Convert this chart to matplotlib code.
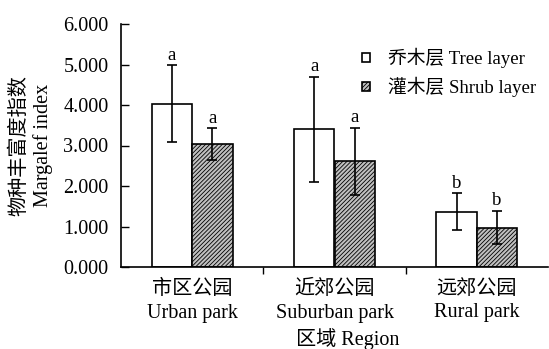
import matplotlib
matplotlib.use("Agg")
import matplotlib.pyplot as plt
import numpy as np

plt.rcParams['font.family'] = ['Liberation Serif', 'Noto Sans CJK SC']
plt.rcParams['hatch.linewidth'] = 0.6

regions = ["市区公园\nUrban park", "近郊公园\nSuburban park", "远郊公园\nRural park"]
series_names = ["乔木层 Tree layer", "灌木层 Shrub layer"]
tree_mean = [4.03, 3.40, 1.37]
tree_err = [0.95, 1.29, 0.45]
shrub_mean = [3.03, 2.61, 0.97]
shrub_err = [0.39, 0.82, 0.41]
tree_sig = ["a", "a", "b"]
shrub_sig = ["a", "a", "b"]
y_ticks = [0, 1, 2, 3, 4, 5, 6]

FS = 14.5

fig = plt.figure(figsize=(5.49, 3.49), dpi=100)
ax = fig.add_axes([121 / 549, 1 - 267 / 349, 427 / 549, 243 / 349])

centers = np.arange(len(regions)) + 0.5
w = 0.285
err_kw = dict(ecolor="black", elinewidth=1.2, capsize=3.5, capthick=1.2)

ax.bar(centers - w / 2, tree_mean, w, yerr=tree_err, color="white",
       edgecolor="black", linewidth=1.2, error_kw=err_kw, label=series_names[0])
ax.bar(centers + w / 2, shrub_mean, w, yerr=shrub_err, color="#c0c0c0",
       edgecolor="black", linewidth=1.2, hatch="////////", error_kw=err_kw,
       label=series_names[1])

for i in range(len(regions)):
    ax.text(centers[i] - w / 2, tree_mean[i] + tree_err[i] + 0.04, tree_sig[i],
            ha="center", va="bottom", fontsize=FS - 1)
    ax.text(centers[i] + w / 2, shrub_mean[i] + shrub_err[i] + 0.04, shrub_sig[i],
            ha="center", va="bottom", fontsize=FS - 1)

ax.set_xlim(0, 3)
ax.set_ylim(0, 6)
ax.set_yticks(y_ticks)
ax.set_yticklabels([f"{v:.3f}" for v in y_ticks], fontsize=FS)
ax.tick_params(axis="y", direction="in", length=6, width=1, pad=9)

ax.set_xticks([1, 2])
ax.set_xticklabels([])
ax.tick_params(axis="x", direction="out", length=5, width=1)
ax.set_xticks(centers, minor=True)
ax.set_xticklabels(regions, minor=True, fontsize=FS, linespacing=1.35)
ax.tick_params(axis="x", which="minor", length=0, pad=9)

for side in ["top", "right"]:
    ax.spines[side].set_visible(False)
for side in ["left", "bottom"]:
    ax.spines[side].set_linewidth(1.2)

ax.set_xlabel("区域 Region", fontsize=FS, labelpad=0)
ax.xaxis.set_label_coords(0.53, -0.25)
ax.set_ylabel("物种丰富度指数\nMargalef index", fontsize=FS, linespacing=1.2)
ax.yaxis.set_label_coords(-0.16, 0.5)

ax.legend(loc="upper left", bbox_to_anchor=(0.525, 0.97), frameon=False,
          fontsize=13.5, handlelength=0.4, handleheight=0.4, handletextpad=1.0,
          labelspacing=0.45)

fig.savefig("out.png", dpi=100)
